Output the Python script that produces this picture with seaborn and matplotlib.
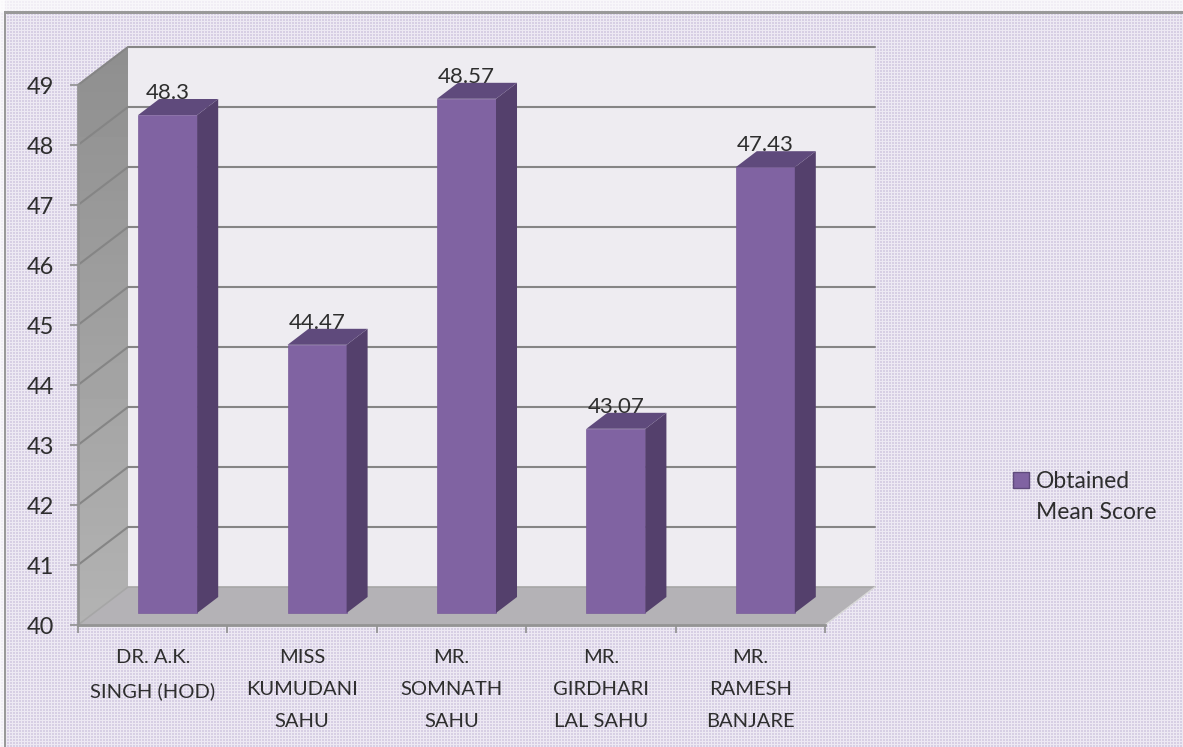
import numpy as np
import pandas as pd
import seaborn as sns
import matplotlib
matplotlib.use('Agg')
import matplotlib.pyplot as plt
from matplotlib.patches import Polygon
from matplotlib.transforms import Affine2D

teachers = ['DR. A.K.\nSINGH (HOD)', 'MISS\nKUMUDANI\nSAHU', 'MR.\nSOMNATH\nSAHU',
            'MR.\nGIRDHARI\nLAL SAHU', 'MR.\nRAMESH\nBANJARE']
scores = [48.3, 44.47, 48.57, 43.07, 47.43]
score_labels = ['48.3', '44.47', '48.57', '43.07', '47.43']
y_ticks = list(range(40, 50))
legend_label = 'Obtained\nMean Score'

W, H = 1183, 747

sns.set_theme(style='white')
plt.rcParams['font.family'] = ['Lato', 'DejaVu Sans']
text_color = '#2e2e2e'

df = pd.DataFrame({'Teacher': teachers, 'Score': scores})

fig = plt.figure(figsize=(W / 100, H / 100), dpi=100)

# woven lavender background
bg = np.ones((H, W, 3)) * np.array([0.845, 0.815, 0.895])
bg[::3, :, :] = [0.93, 0.915, 0.955]
bg[:, ::3, :] = [0.93, 0.915, 0.955]
bg[:12, :, :] = bg[:12, :, :] * 0.35 + 0.65
bg[:, :5, :] = bg[:, :5, :] * 0.35 + 0.65
bg[11:14, 4:, :] = 0.6
bg[11:, 4:6, :] = 0.6
ax_bg = fig.add_axes([0, 0, 1, 1], zorder=0)
ax_bg.imshow(bg, aspect='auto', interpolation='nearest')
ax_bg.axis('off')

# front plane of the 3d box, x 78-825 px, y 85-625 px
ax = fig.add_axes([78 / W, 1 - 625 / H, 747 / W, 540 / H], zorder=1)
ax.patch.set_visible(False)

sns.barplot(data=df, x='Teacher', y='Score', color='#8063a2', saturation=1,
            width=0.395, label=legend_label, ax=ax, legend=False, edgecolor='#7a5d9b', linewidth=0.5)
ax.set_xlim(-0.5, 4.5)
ax.set_ylim(40, 49)

# depth of box and bars, in data units
depth_x, depth_y = 50 / 149.4, 38 / 60
bar_dx, bar_dy = 15 / 149.4, 12 / 60
side_x, side_y = 21 / 149.4, 16 / 60

x0, x1 = -0.5, 4.5
y0, y1 = 40, 49

bars = list(ax.patches)

# walls
back = Polygon([(x0 + depth_x, y0 + depth_y), (x1 + depth_x, y0 + depth_y),
                (x1 + depth_x, y1 + depth_y), (x0 + depth_x, y1 + depth_y)],
               fc='#eeecf1', ec='none', clip_on=False, zorder=0.5)
ax.add_patch(back)
floor = Polygon([(x0, y0), (x1, y0), (x1 + depth_x, y0 + depth_y), (x0 + depth_x, y0 + depth_y)],
                fc='#b4b2b6', ec='none', clip_on=False, zorder=0.6)
ax.add_patch(floor)
side_pts = [(x0, y0), (x0 + depth_x, y0 + depth_y), (x0 + depth_x, y1 + depth_y), (x0, y1)]
side = Polygon(side_pts, fc='none', ec='none', clip_on=False, zorder=0.6)
ax.add_patch(side)
shade = ax.imshow(np.linspace(0.56, 0.70, 64).reshape(-1, 1), cmap='gray', vmin=0, vmax=1,
                  extent=(x0, x0 + depth_x, y0, y1 + depth_y), origin='upper',
                  aspect='auto', zorder=0.55)
shade.set_clip_box(fig.bbox)
shade.set_clip_path(side)
ax.set_xlim(x0, x1)
ax.set_ylim(y0, y1)

# grid on back wall and side wall
for v in y_ticks:
    if v > y0:
        ax.plot([x0, x0 + depth_x, x1 + depth_x], [v, v + depth_y, v + depth_y],
                color='#858585', lw=1.5, clip_on=False, zorder=0.8)
ax.plot([x0, x0 + depth_x, x1 + depth_x], [y0, y0 + depth_y, y0 + depth_y],
        color='#a6a6a6', lw=1.2, clip_on=False, zorder=0.8)
ax.plot([x1, x1 + depth_x], [y0, y0 + depth_y], color='#d8d8d8', lw=1, clip_on=False, zorder=0.8)

# move bars into the box, add side and top faces
for bar, v, lab in zip(bars, scores, score_labels):
    left = bar.get_x() + bar_dx
    w = bar.get_width()
    bar.set_x(left)
    bar.set_y(y0 + bar_dy)
    bar.set_height(v - y0)
    bar.set_zorder(3)
    bar.set_clip_on(False)
    top = v + bar_dy
    ax.add_patch(Polygon([(left + w, y0 + bar_dy), (left + w + side_x, y0 + bar_dy + side_y),
                          (left + w + side_x, top + side_y), (left + w, top)],
                         fc='#54406c', ec='none', zorder=3, clip_on=False))
    ax.add_patch(Polygon([(left, top), (left + w, top), (left + w + side_x, top + side_y),
                          (left + side_x, top + side_y)],
                         fc='#5f4a7c', ec='none', zorder=3, clip_on=False))
    ax.text(left + w / 2, v, lab, ha='center', va='center', fontsize=16, color=text_color,
            zorder=5, clip_on=False,
            transform=ax.transData + Affine2D().translate(0, 34))

# axes
for s in ['top', 'right']:
    ax.spines[s].set_visible(False)
for s in ['left', 'bottom']:
    ax.spines[s].set_color('#949494')
    ax.spines[s].set_linewidth(2)
    ax.spines[s].set_zorder(2)
ax.set_xlabel('')
ax.set_ylabel('')
ax.set_yticks(y_ticks)
ax.set_xticks(range(len(teachers)))
ax.set_xticklabels(teachers, linespacing=2.05)
ax.set_xticks(np.arange(x0, x1 + 1), minor=True)
ax.tick_params(axis='y', length=6, width=1.2, color='#8f8f8f', labelsize=17,
               labelcolor=text_color, pad=11, left=True)
ax.tick_params(axis='x', which='major', length=0, labelsize=14.5, labelcolor=text_color, pad=17.5)
ax.tick_params(axis='x', which='minor', length=6, width=1.2, color='#8f8f8f', bottom=True)

# legend
leg = ax.legend(loc='center left', bbox_to_anchor=(1013 / W, 1 - 497 / H),
                bbox_transform=fig.transFigure, frameon=False, fontsize=16.5,
                labelcolor=text_color, handlelength=0.7, handleheight=0.7,
                handletextpad=0.3, borderpad=0, borderaxespad=0, labelspacing=0)
for t in leg.get_texts():
    t.set_linespacing(1.6)
handle = leg.legend_handles[0]
handle.set_y(handle.get_y() + 12.5)
handle.set_edgecolor('#5f4a7c')
handle.set_linewidth(1)

fig.savefig('out.png', dpi=100)
